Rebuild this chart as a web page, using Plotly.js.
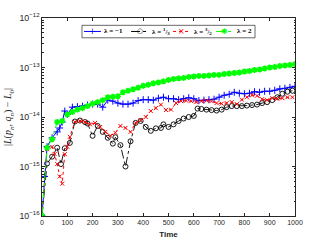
<!DOCTYPE html>
<html><head><meta charset="utf-8">
<script src="https://cdn.plot.ly/plotly-3.0.1.min.js"></script>
<style>html,body{margin:0;padding:0;background:#fff}#chart{width:327px;height:245px}</style>
</head><body><div id="chart"></div>
<script>
const tBlue = [0,10,20,40,60,70,80,90,100,120,140,160,180,200,220,240,260,280,300,320,340,360,380,400,420,440,460,480,500,520,540,560,580,600,620,640,660,680,700,720,740,760,780,800,820,840,860,880,900,920,940,960,980,1000];
const vBlue = [1e-16,6.3e-16,2.51e-15,3.8e-15,5.0e-15,6.0e-15,7.9e-15,1.32e-14,1.12e-14,1.58e-14,1.62e-14,1.66e-14,1.74e-14,1.82e-14,1.82e-14,1.58e-14,2.19e-14,2.09e-14,1.91e-14,1.82e-14,1.82e-14,1.91e-14,2.14e-14,2.24e-14,2.24e-14,2.19e-14,2.4e-14,2.51e-14,2.34e-14,2.34e-14,2.24e-14,2.34e-14,2.45e-14,2.34e-14,2.14e-14,2.19e-14,2.24e-14,2.29e-14,2.51e-14,2.75e-14,2.88e-14,3.16e-14,3.02e-14,2.95e-14,3.02e-14,3.24e-14,3.16e-14,3.31e-14,3.31e-14,3.47e-14,3.72e-14,3.8e-14,3.98e-14,4.17e-14];

const tBlack = [0,20,40,60,75,90,110,130,150,170,180,200,220,240,260,280,290,310,330,350,370,390,410,430,450,470,480,500,520,540,560,580,600,615,630,650,670,690,710,730,750,770,790,810,830,850,870,890,910,930,950,970,990];
const vBlack = [1e-16,1.15e-15,1.58e-15,2.4e-15,1.12e-15,2.34e-15,3.0e-15,8.1e-15,8.5e-15,7.9e-15,7.4e-15,4.17e-15,6.6e-15,5.0e-15,3.8e-15,2.9e-15,3.9e-15,2.7e-15,1.0e-15,3.24e-15,7.6e-15,8.3e-15,6.3e-15,5.25e-15,5.9e-15,6.0e-15,7.1e-15,6.3e-15,7.1e-15,8.3e-15,9.3e-15,1.0e-14,1.05e-14,1.48e-14,1.45e-14,1.41e-14,1.38e-14,1.35e-14,1.41e-14,1.58e-14,1.66e-14,1.66e-14,1.66e-14,1.7e-14,1.74e-14,1.78e-14,1.91e-14,2.0e-14,2.19e-14,2.51e-14,2.95e-14,3.24e-14,3.39e-14];

const tRed = [0,20,40,50,60,70,80,90,100,110,130,150,170,190,210,230,250,270,290,310,330,350,370,390,410,430,450,470,490,510,530,550,570,590,610,630,650,670,690,710,730,750,770,790,810,830,850,870,890,910,930,950,970,990];
const vRed = [1e-16,2.24e-15,2.51e-15,1.78e-15,1.12e-15,6.3e-16,4.5e-16,1.78e-15,2.51e-15,3.98e-15,7.94e-15,8.3e-15,7.94e-15,7.08e-15,7.6e-15,6.3e-15,5.0e-15,4.17e-15,4.8e-15,6.6e-15,6.0e-15,5.0e-15,7.6e-15,8.7e-15,1.0e-14,1.32e-14,1.51e-14,1.78e-14,1.38e-14,1.41e-14,1.91e-14,2.09e-14,2.14e-14,2.09e-14,2.0e-14,2.09e-14,2.14e-14,2.09e-14,1.91e-14,1.86e-14,1.91e-14,2.0e-14,1.82e-14,2.24e-14,2.51e-14,2.75e-14,2.69e-14,2.29e-14,2.19e-14,2.4e-14,2.34e-14,2.4e-14,2.51e-14,2.51e-14];

const tGreen = [0,20,40,60,80,100,120,140,160,180,200,220,240,260,280,300,320,340,360,380,400,420,440,460,480,500,520,540,560,580,600,620,640,660,680,700,720,740,760,780,800,820,840,860,880,900,920,940,960,980,1000];
const vGreen = [1e-16,2.4e-15,3.55e-15,7.9e-15,8.3e-15,1.12e-14,1.26e-14,1.41e-14,1.51e-14,1.66e-14,1.86e-14,2.0e-14,2.19e-14,2.51e-14,2.57e-14,2.63e-14,3.16e-14,3.39e-14,3.63e-14,3.89e-14,4.27e-14,4.47e-14,4.79e-14,5.0e-14,5.25e-14,5.62e-14,5.89e-14,6.03e-14,6.17e-14,6.46e-14,6.61e-14,6.76e-14,6.76e-14,6.92e-14,7.08e-14,7.08e-14,7.41e-14,7.59e-14,7.76e-14,7.94e-14,8.32e-14,8.51e-14,8.91e-14,9.12e-14,9.55e-14,1.0e-13,1.02e-13,1.07e-13,1.10e-13,1.12e-13,1.17e-13];

const names = ['λ = −1', 'λ = <sup>1</sup>/<sub>3</sub>', 'λ = <sup>3</sup>/<sub>2</sub>', 'λ = 2'];
const colors = ['#0000ff', '#000000', '#ff0000', '#00ff00'];
const dashes = ['solid', 'dashdot', 'dot', 'dashdot'];
const glyphs = ['+', '○', '×', '✱'];
const xTicks = [0,100,200,300,400,500,600,700,800,900,1000];

const traces = [
  {x:tBlue, y:vBlue, name:names[0], mode:'lines+markers', line:{color:colors[0], width:1, dash:dashes[0]},
   marker:{symbol:'cross-thin-open', size:5, line:{color:colors[0], width:1}}},
  {x:tBlack, y:vBlack, name:names[1], mode:'lines+markers', line:{color:colors[1], width:0.9, dash:dashes[1]},
   marker:{symbol:'circle-open', size:5, color:colors[1], line:{color:colors[1], width:0.9}}},
  {x:tRed, y:vRed, name:names[2], mode:'lines+markers', line:{color:colors[2], width:1, dash:dashes[2]},
   marker:{symbol:'x-thin-open', size:4, line:{color:colors[2], width:1}}},
  {x:tGreen, y:vGreen, name:names[3], mode:'lines+markers', line:{color:colors[3], width:1, dash:dashes[3]},
   marker:{symbol:'asterisk-open', size:5, line:{color:colors[3], width:1.6}}}
];

// custom compact legend (box, line samples, glyphs, labels) in paper coordinates
const legX = [0.166, 0.352, 0.518, 0.688];
const legW = 0.067, legY = 0.932;
const shapes = [{type:'rect', xref:'paper', yref:'paper', x0:0.158, x1:0.842, y0:0.900, y1:0.963,
  line:{color:'#262626', width:0.7}, fillcolor:'#ffffff', layer:'above'}];
const annotations = [];
for (let i = 0; i < 4; i++) {
  shapes.push({type:'line', xref:'paper', yref:'paper', x0:legX[i], x1:legX[i]+legW, y0:legY, y1:legY,
    line:{color:colors[i], width:1, dash:dashes[i]}, layer:'above'});
  annotations.push({xref:'paper', yref:'paper', x:legX[i]+legW/2, y:legY, text:glyphs[i], showarrow:false,
    xanchor:'center', yanchor:'middle', font:{family:'DejaVu Sans', size:i===1?7:8, color:colors[i]}});
  annotations.push({xref:'paper', yref:'paper', x:legX[i]+legW+0.006, y:legY, text:'<b>'+names[i]+'</b>', showarrow:false,
    xanchor:'left', yanchor:'middle', font:{family:'Liberation Serif, serif', size:7, color:'#000'}});
}

const axCommon = {showline:true, linecolor:'#262626', linewidth:1, mirror:'ticks', ticks:'inside', ticklen:3,
  tickcolor:'#262626', showgrid:false, zeroline:false, tickfont:{family:'Liberation Sans, Arial', size:7, color:'#262626'}};

const layout = {
  width:327, height:245, margin:{l:42, r:32, t:18, b:29},
  paper_bgcolor:'#fff', plot_bgcolor:'#fff', showlegend:false,
  shapes:shapes, annotations:annotations,
  xaxis: Object.assign({}, axCommon, {range:[0,1000], tickvals:xTicks, ticktext:xTicks.map(String),
    title:{text:'<b>Time</b>', font:{family:'Liberation Sans, Arial', size:8, color:'#262626'}, standoff:5}}),
  yaxis: Object.assign({}, axCommon, {type:'log', range:[-16,-12], dtick:1, exponentformat:'power',
    minor:{ticks:'inside', ticklen:1.5, tickcolor:'#262626'},
    title:{text:'|<i>L</i>(<i>p<sub>n</sub></i>, <i>q<sub>n</sub></i>) − <i>L</i><sub>0</sub>|', font:{family:'Liberation Serif, serif', size:10, color:'#262626'}, standoff:5}})
};

Plotly.newPlot('chart', traces, layout, {staticPlot:true, displayModeBar:false});
</script></body></html>
